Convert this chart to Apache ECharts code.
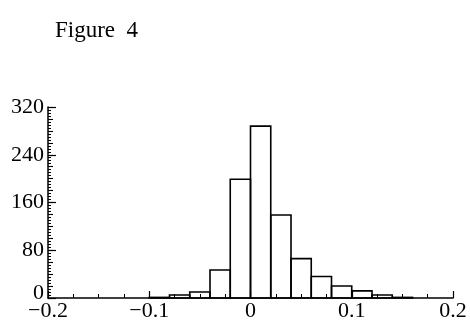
<!DOCTYPE html>
<html>
<head>
<meta charset="utf-8">
<script src="https://cdn.jsdelivr.net/npm/echarts@6/dist/echarts.min.js"></script>
<style>html,body{margin:0;padding:0;background:#fff;}#c{width:470px;height:322px;}</style>
</head>
<body>
<div id="c"></div>
<script>
const titleText = 'Figure\u20024';
const binStarts = [-0.20,-0.18,-0.16,-0.14,-0.12,-0.10,-0.08,-0.06,-0.04,-0.02,0.00,0.02,0.04,0.06,0.08,0.10,0.12,0.14,0.16,0.18];
const counts    = [0,0,0,0,0,1,5,10,47,199,288,139,66,36,20,12,5,1,0,0];
const binWidth = 0.02;
const xTicks = [-0.2,-0.1,0,0.1,0.2];
const yTicks = [0,80,160,240,320];

const font = '"Liberation Serif","DejaVu Serif",serif';
const data = binStarts.map((s,i)=>[s, s+binWidth, counts[i]]);
function fmtX(v){
  const t = xTicks.find(x=>Math.abs(x-v)<1e-9);
  if(t===undefined) return '';
  if(t===0) return '0';
  return (t<0?'\u2212':'') + Math.abs(t).toFixed(1);
}

const chart = echarts.init(document.getElementById('c'));
chart.setOption({
  animation:false,
  title:{text:titleText,left:50,top:14,textStyle:{fontFamily:font,fontSize:23,fontWeight:'normal',color:'#000'}},
  grid:[{left:48,right:17,top:107,bottom:24}],
  xAxis:[{type:'value',min:-0.2,max:0.2,interval:0.1,
    axisLine:{show:true,onZero:false,lineStyle:{color:'#000',width:1.5}},
    axisTick:{show:true,inside:true,length:7,lineStyle:{color:'#000',width:1.2}},
    minorTick:{show:true,splitNumber:4,length:4,lineStyle:{color:'#000',width:1}},
    splitLine:{show:false},
    axisLabel:{fontFamily:font,fontSize:22,color:'#000',margin:2,formatter:fmtX}
  }],
  yAxis:[{type:'value',min:0,max:320,interval:80,
    axisLine:{show:true,onZero:false,lineStyle:{color:'#000',width:1.5}},
    axisTick:{show:true,inside:true,length:8,lineStyle:{color:'#000',width:1.2}},
    minorTick:{show:true,splitNumber:16,length:3,lineStyle:{color:'#000',width:1}},
    splitLine:{show:false},
    axisLabel:{fontFamily:font,fontSize:22,color:'#000',margin:4,
      formatter:v=>v===0?'{z|0}':String(v),
      rich:{z:{fontFamily:font,fontSize:22,color:'#000',padding:[0,0,10,0]}}}
  },{type:'value',min:0,max:320,interval:20,position:'left',
    axisLine:{show:false,onZero:false},axisLabel:{show:false},splitLine:{show:false},
    axisTick:{show:true,inside:true,length:5,lineStyle:{color:'#000',width:1.1}}
  }],
  series:[{type:'custom',xAxisIndex:0,yAxisIndex:0,data:data,
    renderItem:function(params,api){
      if(api.value(2)<=0) return null;
      const p0=api.coord([api.value(0),api.value(2)]);
      const p1=api.coord([api.value(1),0]);
      return {type:'rect',shape:{x:p0[0],y:p0[1],width:p1[0]-p0[0],height:p1[1]-p0[1]},
        style:{fill:'none',stroke:'#000',lineWidth:1.6}};
    }}]
});
</script>
</body>
</html>
